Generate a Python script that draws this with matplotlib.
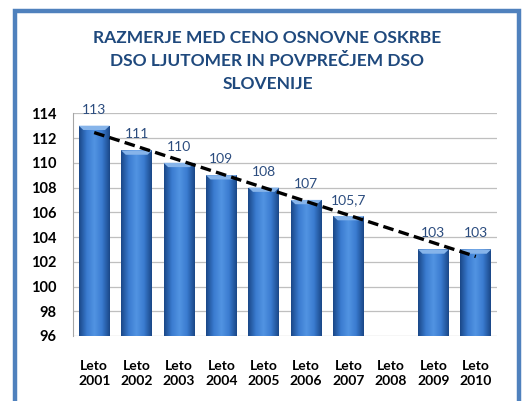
import numpy as np
import matplotlib
matplotlib.use("Agg")
import matplotlib.pyplot as plt
from matplotlib.patches import Rectangle
from matplotlib.colors import LinearSegmentedColormap

# --- Daten -------------------------------------------------------------------
leta = ["Leto\n2001", "Leto\n2002", "Leto\n2003", "Leto\n2004", "Leto\n2005",
        "Leto\n2006", "Leto\n2007", "Leto\n2008", "Leto\n2009", "Leto\n2010"]
vrednosti = [113, 111, 110, 109, 108, 107, 105.7, np.nan, 103, 103]
oznake = ["113", "111", "110", "109", "108", "107", "105,7", "", "103", "103"]
y_ticks = [96, 98, 100, 102, 104, 106, 108, 110, 112, 114]

naslov = "RAZMERJE MED CENO OSNOVNE OSKRBE\nDSO LJUTOMER IN POVPREČJEM DSO\nSLOVENIJE"

plt.rcParams['font.family'] = ['Lato', 'DejaVu Sans']

fig = plt.figure(figsize=(5.23, 4.01), dpi=100)
fig.patch.set_facecolor("white")

# modri okvir okoli grafikona
fig.patches.append(Rectangle((15 / 523, -0.01), 504 / 523, (401 - 11) / 401 + 0.01,
                             transform=fig.transFigure, fill=False,
                             edgecolor="#4F81BD", linewidth=3.2))

ax = fig.add_axes([73 / 523, 65 / 401, 424 / 523, 222.7 / 401])

x = np.arange(len(leta))
y = np.array(vrednosti, dtype=float)

# gradient za "3D" stolpce
cmap = LinearSegmentedColormap.from_list(
    "stolpec", ["#1A4888", "#3A7BD0", "#5294E2", "#3A7BD0", "#1A4888"])
grad = np.linspace(0, 1, 64).reshape(1, -1)

sirina = 0.73
bars = ax.bar(x, np.nan_to_num(y - 96), bottom=96, width=sirina,
              color="#3A76C6", edgecolor="none", zorder=3)
for b, v in zip(bars, y):
    if np.isnan(v):
        continue
    x0, w = b.get_x(), b.get_width()
    im = ax.imshow(grad, cmap=cmap, aspect="auto",
                   extent=[x0, x0 + w, 96, v], zorder=3.1)
    im.set_clip_path(b)
    # svetlejsi zgornji rob
    ax.fill([x0, x0 + w, x0 + w * 0.85, x0 + w * 0.15],
            [v, v, v - 0.35, v - 0.35], color="#86B4EA", zorder=3.2, lw=0)

# podatkovne oznake
for xi, v, t in zip(x, y, oznake):
    if np.isnan(v):
        continue
    ax.annotate(t, (xi, v), xytext=(0, 11.5), textcoords="offset points",
                ha="center", va="center", fontsize=10, color="#2B4C7E")

# linearni trend (brez manjkajocega leta)
m = ~np.isnan(y)
k, n = np.polyfit(x[m] + 1, y[m], 1)
trend = k * (x + 1) + n
ax.plot(x, trend, color="black", linestyle=(0, (3.2, 1.6)), linewidth=2.4, zorder=4)

ax.set_xlim(-0.5, len(leta) - 0.5)
ax.set_ylim(96, 114)
ax.set_yticks(y_ticks)
ax.set_yticklabels([str(t) for t in y_ticks], fontsize=10.5, fontweight="bold")
ax.set_xticks(x)
ax.set_xticklabels(leta, fontsize=10, fontweight="bold", linespacing=1.3)
ax.tick_params(axis="both", length=0)
ax.tick_params(axis="y", pad=12)
ax.tick_params(axis="x", pad=17)

ax.grid(axis="y", color="#BFBFBF", linewidth=0.9, zorder=0)
for s in ["top", "right", "bottom"]:
    ax.spines[s].set_visible(False)
ax.spines["left"].set_color("#A6A6A6")
ax.set_facecolor("white")

fig.text(0.5 + 6 / 523, 1 - 61 / 401, naslov, ha="center", va="center",
         fontsize=12.5, fontweight="bold", color="#1F497D", linespacing=1.55)

fig.savefig("out.png", dpi=100)
